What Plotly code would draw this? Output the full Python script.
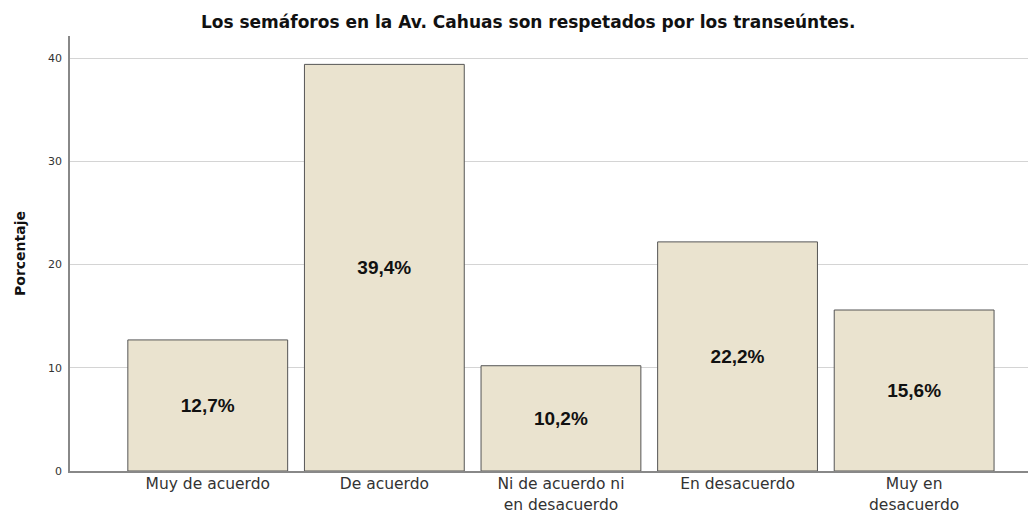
import plotly.graph_objects as go

categories = ["Muy de acuerdo", "De acuerdo", "Ni de acuerdo ni<br>en desacuerdo", "En desacuerdo", "Muy en<br>desacuerdo"]
percentages = [12.7, 39.4, 10.2, 22.2, 15.6]
value_labels = ["12,7%", "39,4%", "10,2%", "22,2%", "15,6%"]
y_ticks = [0, 10, 20, 30, 40]

FONT = "DejaVu Sans, Verdana, sans-serif"

fig = go.Figure()
fig.add_trace(go.Bar(
    x=list(range(len(categories))),
    y=percentages,
    text=value_labels,
    textposition="inside",
    insidetextanchor="middle",
    textangle=0,
    textfont=dict(family="Liberation Sans, Arial, sans-serif", size=19, color="#111111", weight="bold"),
    marker=dict(color="#EAE3CF", line=dict(color="#555555", width=1)),
    width=0.905,
    hoverinfo="skip",
))

fig.update_layout(
    width=1028, height=506,
    margin=dict(l=62, r=0, t=28, b=43, autoexpand=False),
    paper_bgcolor="white", plot_bgcolor="white",
    showlegend=False,
    title=dict(
        text="<b>Los semáforos en la Av. Cahuas son respetados por los transeúntes.</b>",
        x=0.506, xanchor="center", y=0.973, yanchor="middle",
        font=dict(family=FONT, size=17, color="#111111"),
    ),
    font=dict(family=FONT),
)

fig.update_xaxes(
    tickmode="array",
    tickvals=list(range(len(categories))),
    ticktext=categories,
    range=[-0.78, 4.69],
    showgrid=False,
    showline=True, linecolor="#888888", linewidth=1.5,
    ticks="", ticklabelstandoff=-2,
    tickfont=dict(family=FONT, size=15.5, color="#333333"),
    zeroline=False,
    automargin=False,
)

fig.update_yaxes(
    range=[0, 42.15],
    tickmode="array", tickvals=y_ticks,
    showgrid=True, gridcolor="#d4d4d4", gridwidth=1,
    showline=True, linecolor="#888888", linewidth=1.5,
    ticks="outside", ticklen=4, tickcolor="rgba(0,0,0,0)",
    tickfont=dict(family=FONT, size=11, color="#333333"),
    zeroline=False,
    automargin=False,
    title=dict(text="<b>Porcentaje</b>", font=dict(family=FONT, size=14, color="#111111"), standoff=19),
)

fig.write_html("out.html")
